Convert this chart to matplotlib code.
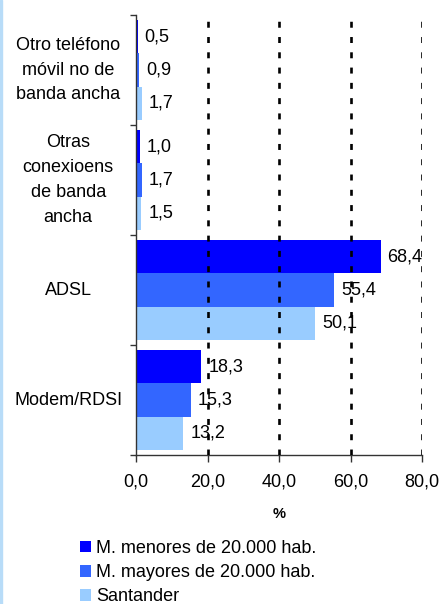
import numpy as np
import matplotlib.pyplot as plt
from matplotlib.patches import Rectangle

plt.rcParams['font.family'] = ['Liberation Sans', 'DejaVu Sans']
plt.rcParams['lines.scale_dashes'] = False

categories = ['Otro teléfono\nmóvil no de\nbanda ancha',
              'Otras\nconexioens\nde banda\nancha',
              'ADSL',
              'Modem/RDSI']
series = ['M. menores de 20.000 hab.', 'M. mayores de 20.000 hab.', 'Santander']
menores = [0.5, 1.0, 68.4, 18.3]
mayores = [0.9, 1.7, 55.4, 15.3]
santander = [1.7, 1.5, 50.1, 13.2]
colors = ['#0000FF', '#3366FF', '#99CCFF']
xticks = [0, 20, 40, 60, 80]

fig = plt.figure(figsize=(4.41, 6.04), dpi=100)
ax = fig.add_axes([0.3084, 0.2467, 0.957 - 0.3084, 0.975 - 0.2467])

ind = np.arange(len(categories))
h = 0.303
for i, (vals, c, name) in enumerate(zip([menores, mayores, santander], colors, series)):
    ys = ind + (i - 1) * h
    ax.barh(ys, vals, height=h, color=c, label=name, zorder=2)
    for y, v in zip(ys, vals):
        ax.annotate(f'{v:.1f}'.replace('.', ','), (v, y), xytext=(5, 0),
                    textcoords='offset points', va='center', ha='left',
                    fontsize=13, zorder=4)

ax.set_ylim(len(categories) - 0.5, -0.5)
ax.set_xlim(0, 80)

for x in xticks[1:]:
    ax.axvline(x, color='black', lw=1.9, dashes=(4.3, 6.7), zorder=3)

ax.set_yticks(ind)
ax.set_yticklabels([])
ax.tick_params(axis='y', which='major', length=0)
ax.set_yticks(np.arange(len(categories) + 1) - 0.5, minor=True)
ax.tick_params(axis='y', which='minor', length=4, width=1, color='#333333', direction='out')
for y, lab in zip(ind, categories):
    ax.text(-0.237, y, lab, transform=ax.get_yaxis_transform(), ha='center',
            va='center', multialignment='center', fontsize=13, linespacing=1.6)

ax.set_xticks(xticks)
ax.set_xticklabels([f'{x:.1f}'.replace('.', ',') for x in xticks], fontsize=13)
ax.tick_params(axis='x', length=5, width=1, color='#333333', pad=8)
ax.set_xlabel('%', fontsize=10.5, fontweight='bold', labelpad=12)

for s in ['top', 'right']:
    ax.spines[s].set_visible(False)
for s in ['left', 'bottom']:
    ax.spines[s].set_color('#333333')
    ax.spines[s].set_linewidth(1)

fig.legend(loc='upper left', bbox_to_anchor=(0.165, 0.118), frameon=False,
           fontsize=13, handlelength=0.6, handleheight=0.6, handletextpad=0.3,
           labelspacing=0.4, borderaxespad=0)

fig.add_artist(Rectangle((0, 0), 2 / 441, 1, transform=fig.transFigure,
                         color='#B8DCF8', zorder=0))

fig.savefig('out.png', dpi=100)
